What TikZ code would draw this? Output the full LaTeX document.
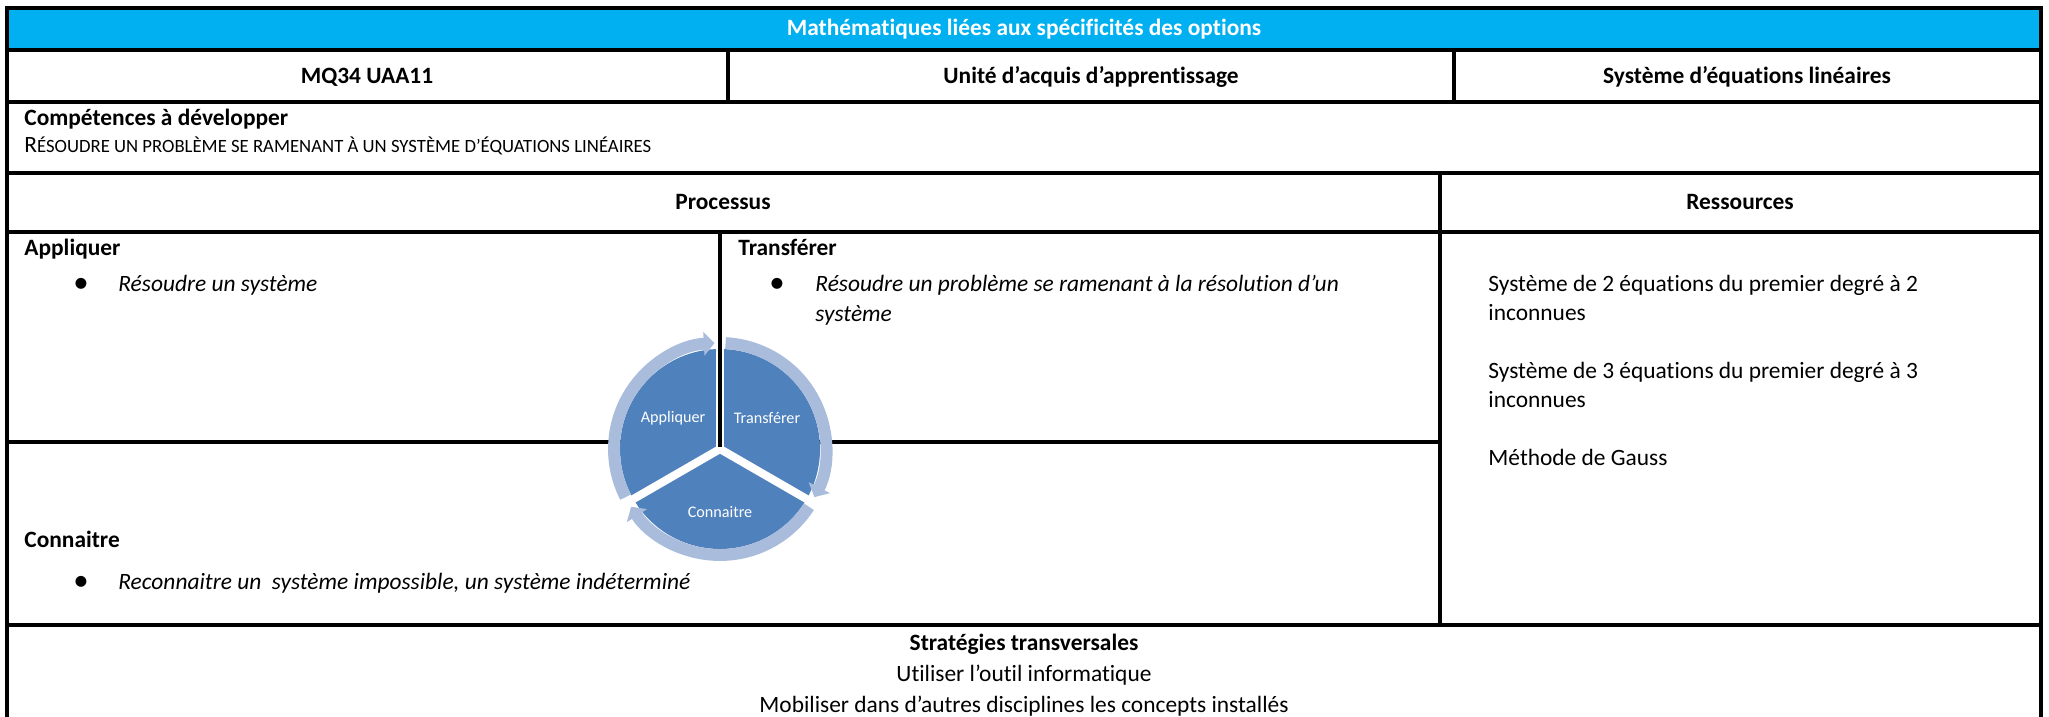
\documentclass[tikz,border=0pt]{standalone}
\usepackage{fontspec}
\setmainfont{Carlito}[Ligatures=CommonOff]
\usetikzlibrary{arrows.meta}

\definecolor{titleblue}{HTML}{00B0F0}
\definecolor{pieblue}{HTML}{4F81BD}
\definecolor{ringblue}{HTML}{A9BCDB}

\newcommand{\fakesc}[1]{{\fontsize{8.8}{10}\selectfont #1}}
\newcommand{\bigdot}{{\fontsize{14.5}{14.5}\selectfont\textbullet}}

\begin{document}
\fontsize{11}{14}\selectfont
\begin{tikzpicture}[x=0.47pt, y=-0.47pt,
  tblrule/.style={line width=1.45pt},
  headtxt/.style={font=\bfseries, inner sep=0pt, anchor=base},
  bodytxt/.style={inner sep=0pt, anchor=base west},
  itemtxt/.style={font=\itshape, inner sep=0pt, anchor=base west},
  bulletdot/.style={inner sep=0pt, anchor=base},
  piesector/.style={fill=pieblue},
  piegap/.style={draw=white, line width=3.8pt},
  ringarrow/.style={draw=ringblue, line width=5.6pt,
    -{Triangle[length=5pt, width=11pt]}},
  piltxt/.style={text=white, font=\fontsize{7.6}{9}\selectfont, inner sep=0pt}
]
  \useasboundingbox (0,0) rectangle (2049,717);

  % title band
  \fill[titleblue] (7,8) rectangle (2041,50);
  \node[headtxt, text=white] (title) at (1024,36)
    {Mathématiques liées aux spécificités des options};

  % frame and rows
  \draw[tblrule] (7,730) -- (7,8) -- (2041,8) -- (2041,730);
  \foreach \y in {50,102,173,232,625}
    \draw[tblrule] (7,\y) -- (2041,\y);
  % column rules
  \draw[tblrule] (728,50) -- (728,102);
  \draw[tblrule] (1454,50) -- (1454,102);
  \draw[tblrule] (1440,173) -- (1440,625);
  \draw[tblrule] (7,442) -- (1440,442);

  % second row
  \node[headtxt] (code) at (367,84) {MQ34 UAA11};
  \node[headtxt] (unit) at (1091,84) {Unité d’acquis d’apprentissage};
  \node[headtxt] (topic) at (1747,84) {Système d’équations linéaires};

  % competences
  \node[headtxt, anchor=base west] (comp) at (24,126) {Compétences à développer};
  \node[bodytxt] (compline) at (24,153)
    {R\fakesc{ÉSOUDRE UN PROBLÈME SE RAMENANT À UN SYSTÈME D’ÉQUATIONS LINÉAIRES}};

  % column heads
  \node[headtxt] (proc) at (723,209) {Processus};
  \node[headtxt] (res) at (1740,209) {Ressources};

  % appliquer
  \node[headtxt, anchor=base west] (appl) at (24,256) {Appliquer};
  \node[bulletdot] (appldot) at (81,292) {\bigdot};
  \node[itemtxt] (appltxt) at (118,291) {Résoudre un système};

  % transferer
  \node[headtxt, anchor=base west] (transf) at (738,256) {Transférer};
  \node[bulletdot] (transfdot) at (777,292) {\bigdot};
  \node[itemtxt] (transftxt) at (815,291)
    {Résoudre un problème se ramenant à la résolution d’un};
  \node[itemtxt] (transftxtb) at (815,321) {système};

  % connaitre
  \node[headtxt, anchor=base west] (conn) at (24,547) {Connaitre};
  \node[bulletdot] (conndot) at (81,590) {\bigdot};
  \node[itemtxt] (conntxt) at (118,589)
    {Reconnaitre un\ \ système impossible, un système indéterminé};

  % ressources
  \node[bodytxt] (resa) at (1488,291) {Système de 2 équations du premier degré à 2};
  \node[bodytxt] (resab) at (1488,320) {inconnues};
  \node[bodytxt] (resb) at (1488,378) {Système de 3 équations du premier degré à 3};
  \node[bodytxt] (resbb) at (1488,407) {inconnues};
  \node[bodytxt] (resc) at (1488,465) {Méthode de Gauss};

  % strategies
  \node[headtxt] (strat) at (1024,650) {Stratégies transversales};
  \node[bodytxt, anchor=base] (tool) at (1024,681) {Utiliser l’outil informatique};
  \node[bodytxt, anchor=base] (mobil) at (1024,712)
    {Mobiliser dans d’autres disciplines les concepts installés};

  % cycle
  \begin{scope}[shift={(720,449)}, y=0.47pt]
    \fill[piesector] (0,0) -- (90:100) arc[start angle=90, end angle=210, radius=100] -- cycle;
    \fill[piesector] (0,0) -- (-30:100) arc[start angle=-30, end angle=90, radius=100] -- cycle;
    \fill[piesector] (0,0) -- (210:100) arc[start angle=210, end angle=330, radius=100] -- cycle;
    \foreach \a in {90,210,330}
      \draw[piegap] (0,0) -- (\a:101);
    % ring arrows
    \draw[ringarrow] (207:106) arc[start angle=207, end angle=93, radius=106];
    \draw[ringarrow] (87:106) arc[start angle=87, end angle=-27, radius=106];
    \draw[ringarrow] (-33:106) arc[start angle=-33, end angle=-147, radius=106];
    \node[piltxt] (cycappl) at (-47,31) {Appliquer};
    \node[piltxt] (cyctransf) at (47,31) {Transférer};
    \node[piltxt] (cycconn) at (0,-63) {Connaitre};
  \end{scope}
  \draw[tblrule] (720,232) -- (720,447);

\end{tikzpicture}
\end{document}
